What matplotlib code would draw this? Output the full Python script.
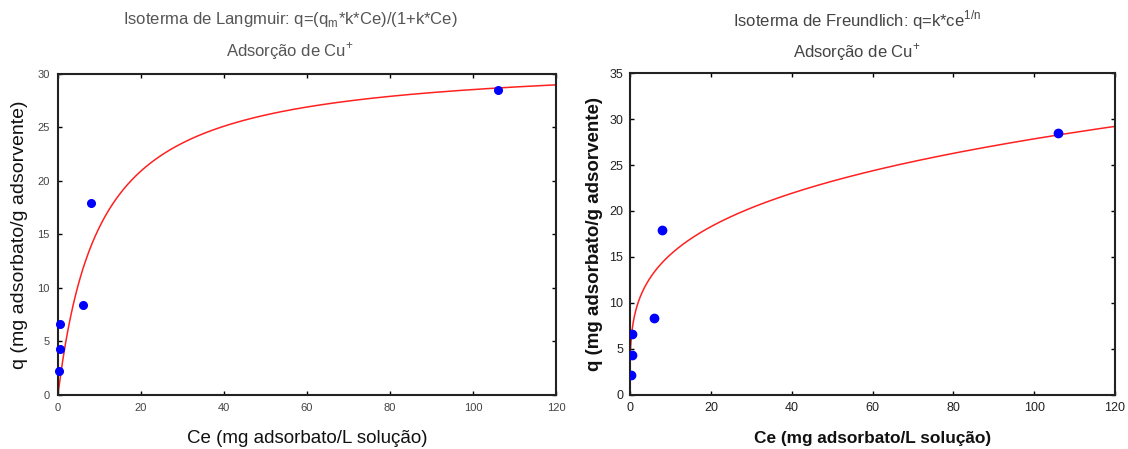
import numpy as np
import matplotlib
matplotlib.use("Agg")
import matplotlib.pyplot as plt

# Data
ce = [0.3, 0.4, 0.6, 6.0, 8.0, 106.0]
q = [2.2, 4.3, 6.6, 8.4, 17.9, 28.5]
# Fitted model parameters
qm_lang, k_lang = 31.4, 0.10
k_freu, n_freu = 8.37, 1.0 / 0.261

x_ticks = [0, 20, 40, 60, 80, 100, 120]
y_ticks_left = [0, 5, 10, 15, 20, 25, 30]
y_ticks_right = [0, 5, 10, 15, 20, 25, 30, 35]

plt.rcParams['font.family'] = ['Liberation Sans', 'DejaVu Sans']

fig = plt.figure(figsize=(11.28, 4.49), dpi=100)

ax1 = fig.add_axes([0.0514, 0.1203, 0.4415, 0.7149])
ax2 = fig.add_axes([0.5585, 0.1203, 0.4300, 0.7171])

xx = np.linspace(0.0, 120, 600)
ql = qm_lang * k_lang * xx / (1 + k_lang * xx)
xf = np.linspace(0.0, 120, 2000)
qf = k_freu * xf ** (1.0 / n_freu)

cfg = [
    dict(ax=ax1, y=ql, x=xx, yt=y_ticks_left, ylim=30, weight='normal', fs=8,
         col='#444444', xfs=13.5, yfs=14, xpad=12, ypad=7, tpad=6, clip=False, ms=5.5),
    dict(ax=ax2, y=qf, x=xf, yt=y_ticks_right, ylim=35, weight='bold', fs=9,
         col='#222222', xfs=12.4, yfs=13.5, xpad=12, ypad=4.5, tpad=5, clip=True, ms=6),
]
for c in cfg:
    ax = c['ax']
    ax.plot(c['x'], c['y'], color='#ff2020', lw=1.1, zorder=2)
    ax.plot(ce, q, 'o', color='#0000ff', ms=c['ms'], zorder=3, clip_on=c['clip'])
    ax.set_xlim(0, 120)
    ax.set_ylim(0, c['ylim'])
    ax.set_xticks(x_ticks)
    ax.set_yticks(c['yt'])
    ax.tick_params(direction='in', top=True, right=True, length=3, width=1,
                   labelsize=c['fs'], labelcolor=c['col'], pad=c['tpad'])
    for s in ax.spines.values():
        s.set_linewidth(1.5)
        s.set_color('#222222')
    ax.set_xlabel('Ce (mg adsorbato/L solução)', fontsize=c['xfs'], fontweight=c['weight'],
                  labelpad=c['xpad'], color='#111111')
    ax.set_ylabel('q (mg adsorbato/g adsorvente)', fontsize=c['yfs'], fontweight=c['weight'],
                  labelpad=c['ypad'], color='#111111')

fig.text(0.2570, 0.957, r'Isoterma de Langmuir: q=(q$_{\mathregular{m}}$*k*Ce)/(1+k*Ce)',
         ha='center', va='center', fontsize=12, color='#555555')
fig.text(0.2570, 0.885, r'Adsorção de Cu$^{\mathregular{+}}$',
         ha='center', va='center', fontsize=12, color='#555555')
fig.text(0.7600, 0.955, r'Isoterma de Freundlich: q=k*ce$^{\mathregular{1/n}}$',
         ha='center', va='center', fontsize=12, color='#444444')
fig.text(0.7600, 0.884, r'Adsorção de Cu$^{\mathregular{+}}$',
         ha='center', va='center', fontsize=12, color='#444444')

fig.savefig('out.png', dpi=100)
